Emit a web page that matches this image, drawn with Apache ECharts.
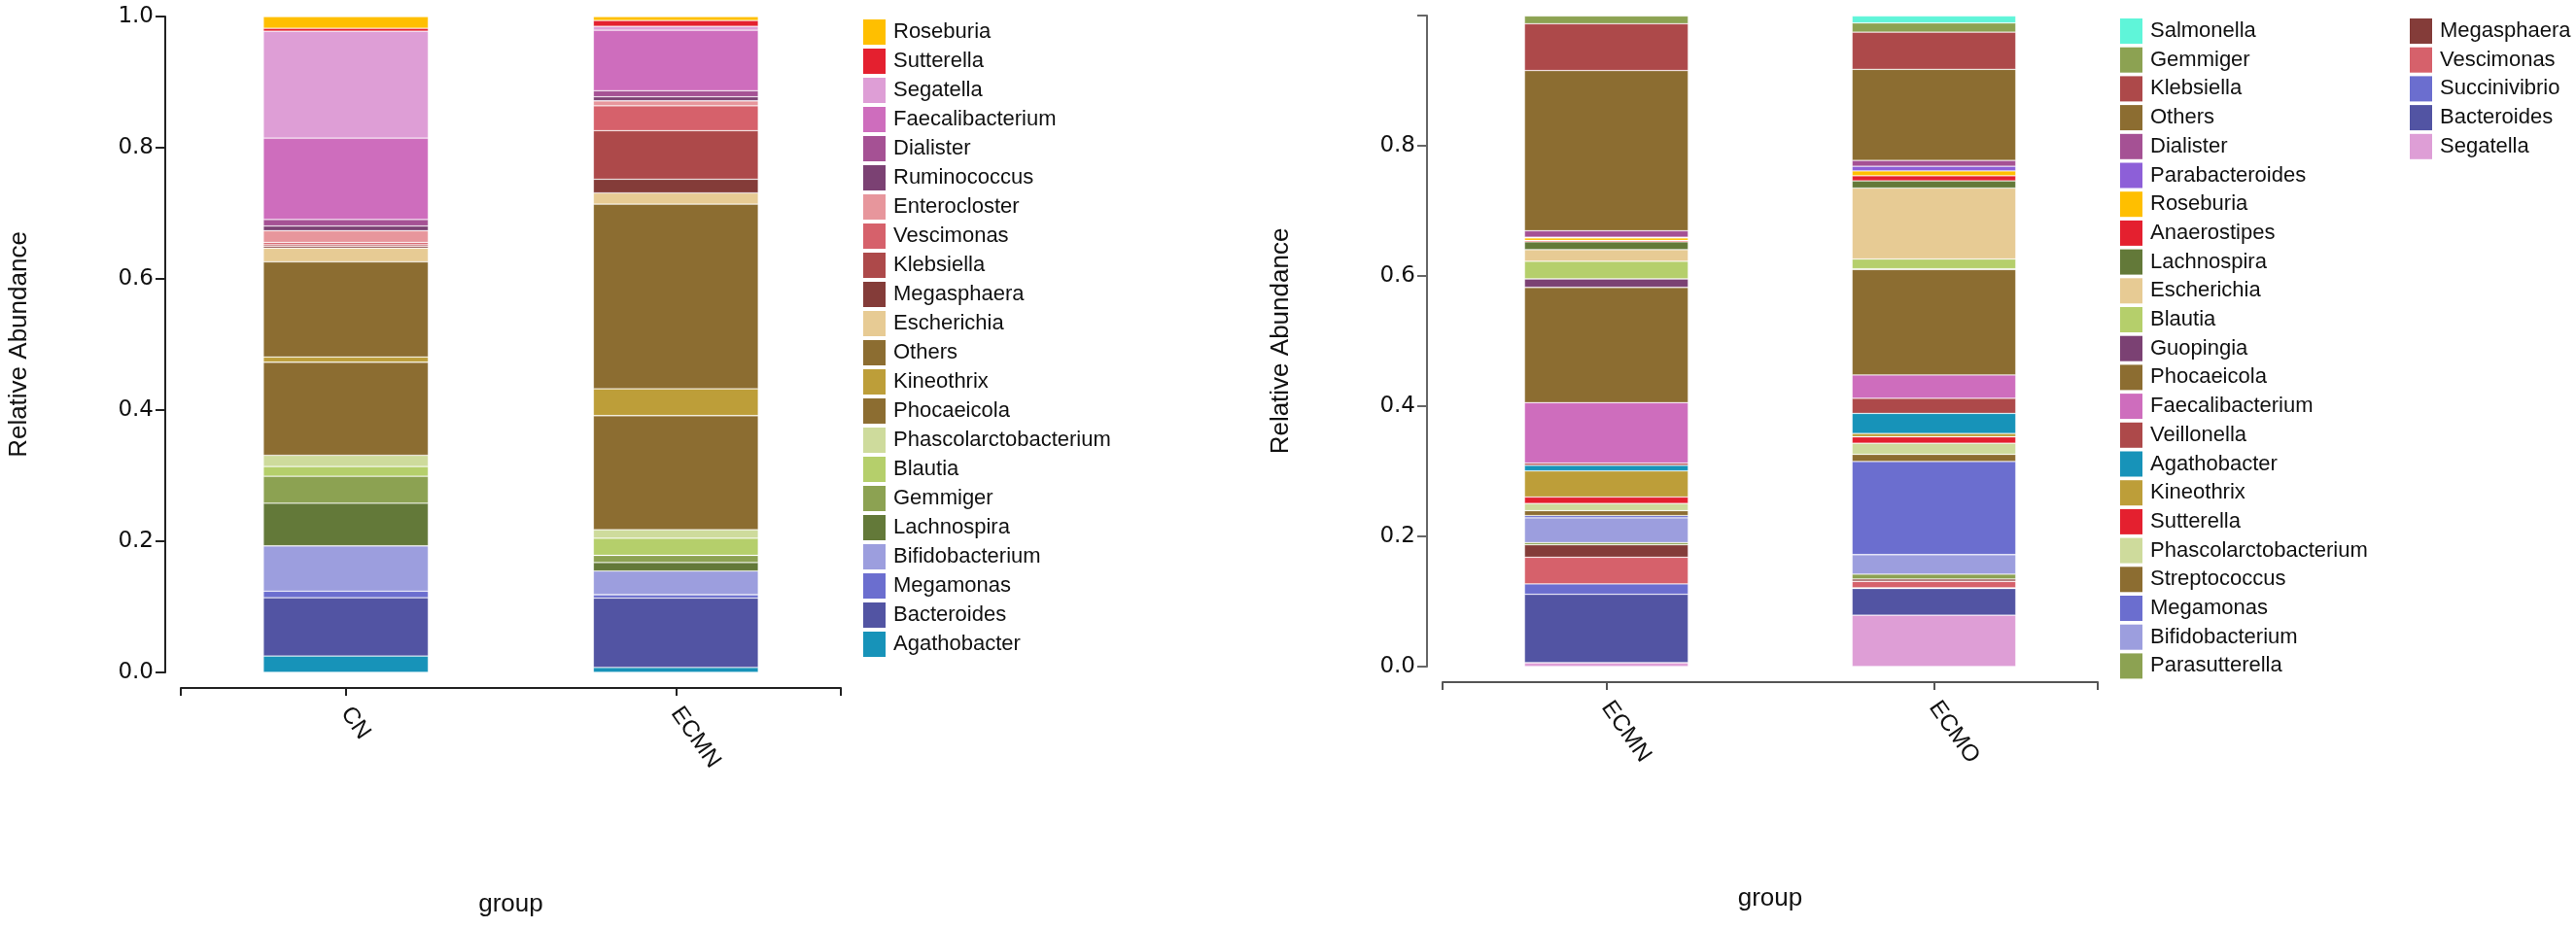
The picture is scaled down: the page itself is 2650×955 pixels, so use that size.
<!DOCTYPE html>
<html lang="en">
<head>
<meta charset="UTF-8">
<title>Relative Abundance</title>
<style>
  * { margin: 0; padding: 0; }
  body { background: #fff; }
  #chart { width: 2650px; height: 955px; }
</style>
</head>
<body>
<div id="chart"></div>
<script src="https://cdn.jsdelivr.net/npm/echarts@6/dist/echarts.min.js"></script>
<script>
// left panel, stack order bottom -> top
const leftGroups = ['CN', 'ECMN'];
const leftTaxa = ['Agathobacter', 'Bacteroides', 'Megamonas', 'Bifidobacterium', 'Lachnospira',
  'Gemmiger', 'Blautia', 'Phascolarctobacterium', 'Phocaeicola', 'Kineothrix', 'Others',
  'Escherichia', 'Megasphaera', 'Klebsiella', 'Vescimonas', 'Enterocloster', 'Ruminococcus',
  'Dialister', 'Faecalibacterium', 'Segatella', 'Sutterella', 'Roseburia'];
const leftCN = [0.025, 0.089, 0.010, 0.069, 0.065, 0.041, 0.015, 0.017, 0.142, 0.008, 0.145,
  0.021, 0.0025, 0.0025, 0.0035, 0.018, 0.007, 0.010, 0.124, 0.163, 0.0045, 0.018];
const leftECMN = [0.0075, 0.106, 0.005, 0.036, 0.013, 0.011, 0.026, 0.013, 0.174, 0.041, 0.2815,
  0.017, 0.021, 0.074, 0.038, 0.0075, 0.006, 0.0095, 0.092, 0.006, 0.009, 0.006];

// right panel, stack order bottom -> top
const rightGroups = ['ECMN', 'ECMO'];
const rightTaxa = ['Segatella', 'Bacteroides', 'Succinivibrio', 'Vescimonas', 'Megasphaera',
  'Parasutterella', 'Bifidobacterium', 'Megamonas', 'Streptococcus', 'Phascolarctobacterium',
  'Sutterella', 'Kineothrix', 'Agathobacter', 'Veillonella', 'Faecalibacterium', 'Phocaeicola',
  'Guopingia', 'Blautia', 'Escherichia', 'Lachnospira', 'Anaerostipes', 'Roseburia',
  'Parabacteroides', 'Dialister', 'Others', 'Klebsiella', 'Gemmiger', 'Salmonella'];
const rightECMN = [0.006, 0.105, 0.016, 0.041, 0.019, 0.0035, 0.038, 0.0035, 0.0075, 0.011,
  0.010, 0.040, 0.0085, 0.0035, 0.093, 0.177, 0.013, 0.027, 0.018, 0.012, 0.002, 0.004,
  0.001, 0.010, 0.246, 0.072, 0.012, 0.001];
const rightECMO = [0.079, 0.041, 0.001, 0.010, 0.0035, 0.0075, 0.030, 0.143, 0.011, 0.017,
  0.010, 0.005, 0.031, 0.023, 0.036, 0.162, 0.001, 0.015, 0.109, 0.011, 0.008, 0.0075,
  0.007, 0.009, 0.140, 0.057, 0.014, 0.011];

const yTicks = [0, 0.2, 0.4, 0.6, 0.8, 1.0];

const taxonColor = {
  Agathobacter: '#1793b9', Bacteroides: '#5254a3', Megamonas: '#6b6ecf', Succinivibrio: '#6b6ecf',
  Bifidobacterium: '#9c9ede', Lachnospira: '#637939', Gemmiger: '#8ca252', Parasutterella: '#8ca252',
  Blautia: '#b5cf6b', Phascolarctobacterium: '#cedb9c', Phocaeicola: '#8c6d31', Others: '#8c6d31',
  Streptococcus: '#8c6d31', Kineothrix: '#bd9e39', Escherichia: '#e7cb94', Megasphaera: '#843c39',
  Klebsiella: '#ad494a', Veillonella: '#ad494a', Vescimonas: '#d6616b', Enterocloster: '#e7969c',
  Ruminococcus: '#7b4173', Guopingia: '#7b4173', Dialister: '#a55194', Faecalibacterium: '#ce6dbd',
  Segatella: '#de9ed6', Sutterella: '#e4202f', Anaerostipes: '#e4202f', Roseburia: '#ffbf00',
  Parabacteroides: '#8d5fd8', Salmonella: '#5ff5d9'
};

var tickFont = { fontFamily: 'DejaVu Sans', fontSize: 23, color: '#111' };
var nameFont = { fontFamily: 'Liberation Sans', fontSize: 26, color: '#111' };

function catAxis(grid, groups, lineColor) {
  return {
    gridIndex: grid, type: 'category', data: groups, position: 'bottom', offset: 16,
    axisLine: { show: true, onZero: false, lineStyle: { color: lineColor, width: 2 } },
    axisTick: { show: true, alignWithLabel: true, length: 8, lineStyle: { color: lineColor, width: 2 } },
    axisLabel: { rotate: -55, margin: 22, fontFamily: 'Liberation Sans', fontSize: 24, color: '#111' },
    name: 'group', nameLocation: 'middle', nameGap: 210, nameTextStyle: nameFont
  };
}
// extra axis only for the end ticks
function endAxis(grid, lineColor) {
  return {
    gridIndex: grid, type: 'value', min: 0, max: 1, interval: 1, position: 'bottom', offset: 16,
    axisLine: { show: false, onZero: false },
    axisTick: { show: true, length: 8, lineStyle: { color: lineColor, width: 2 } },
    axisLabel: { show: false }, splitLine: { show: false }
  };
}
function valAxis(grid, lineColor, hideTop) {
  return {
    gridIndex: grid, type: 'value', min: 0, max: 1, interval: 0.2, offset: 16,
    axisLine: { show: true, onZero: false, lineStyle: { color: lineColor, width: 2 } },
    axisTick: { show: true, length: 10, lineStyle: { color: lineColor, width: 2 } },
    axisLabel: Object.assign({ margin: 12, formatter: function (v) {
      if (hideTop && v >= 1) return '';
      return yTicks.indexOf(v) >= 0 ? v.toFixed(1) : '';
    } }, tickFont),
    splitLine: { show: false },
    name: 'Relative Abundance', nameLocation: 'middle', nameGap: 137, nameTextStyle: nameFont
  };
}

function makeSeries(taxa, a, b, xi, yi, stack) {
  return taxa.map(function (t, i) {
    return {
      name: t, type: 'bar', stack: stack, xAxisIndex: xi, yAxisIndex: yi,
      barWidth: '50%', data: [a[i], b[i]],
      itemStyle: { color: taxonColor[t], borderColor: 'rgba(255,255,255,0.3)', borderWidth: 0.8 }
    };
  });
}

function legendBox(names, left, top, gap) {
  return {
    data: names, orient: 'vertical', left: left, top: top, icon: 'rect',
    itemWidth: 23, itemHeight: 26, itemGap: gap, selectedMode: false,
    itemStyle: { borderWidth: 0 },
    textStyle: { fontFamily: 'Liberation Sans', fontSize: 22, lineHeight: 24, color: '#111',
      padding: [0, 0, 0, 3] }
  };
}

var rightLegend = rightTaxa.slice().reverse();

var myChart = echarts.init(document.getElementById('chart'));
myChart.setOption({
  animation: false,
  grid: [
    { left: 186, top: 17, width: 679, height: 675 },
    { left: 1484, top: 16, width: 674, height: 670 }
  ],
  xAxis: [catAxis(0, leftGroups, '#222'), endAxis(0, '#222'),
          catAxis(1, rightGroups, '#555'), endAxis(1, '#555')],
  yAxis: [valAxis(0, '#222', false), valAxis(1, '#666', true)],
  legend: [
    legendBox(leftTaxa.slice().reverse(), 883, 15, 4),
    legendBox(rightLegend.slice(0, 23), 2176, 14, 3.7),
    legendBox(rightLegend.slice(23), 2474, 14, 3.7)
  ],
  series: makeSeries(leftTaxa, leftCN, leftECMN, 0, 0, 'left')
    .concat(makeSeries(rightTaxa, rightECMN, rightECMO, 2, 1, 'right'))
});
</script>
</body>
</html>
